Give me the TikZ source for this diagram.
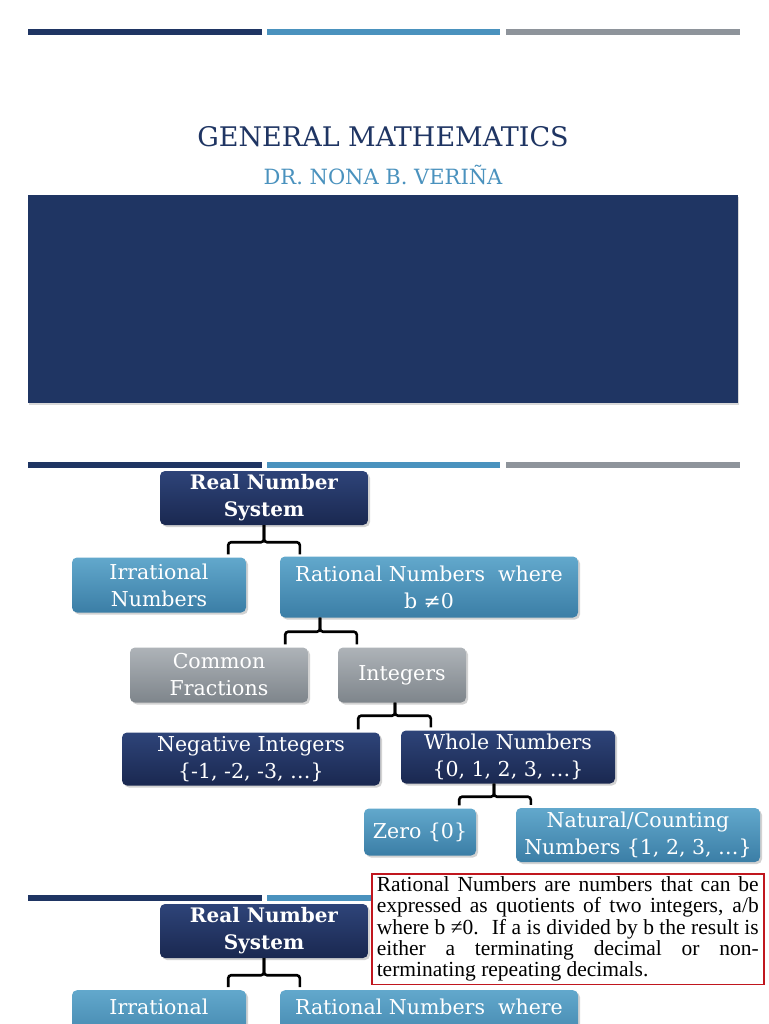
\documentclass[tikz,border=0pt]{standalone}
\usepackage{fontspec}
\setmainfont{DejaVu Serif}
\newfontfamily\boxfont{Liberation Serif}
\usetikzlibrary{shadows,calc}
\definecolor{navy}{HTML}{1F3563}
\definecolor{navyT}{HTML}{2E4479}
\definecolor{navyB}{HTML}{1A2850}
\definecolor{blueT}{HTML}{62A8CC}
\definecolor{blueB}{HTML}{3B7EA6}
\definecolor{greyT}{HTML}{AEB3B8}
\definecolor{greyB}{HTML}{7E858B}
\definecolor{midblue}{HTML}{4A92BE}
\definecolor{barg}{HTML}{8E949B}
\definecolor{redb}{HTML}{C0161E}
\begin{document}
\begin{tikzpicture}[x=1pt,y=-1pt,
  box/.style={rounded corners=5pt, text=white, align=center, inner sep=0pt, drop shadow={shadow xshift=2pt,shadow yshift=-2pt,opacity=0.35}, font=\fontsize{20.5}{27}\selectfont},
  nv/.style={box, top color=navyT, bottom color=navyB},
  bl/.style={box, top color=blueT, bottom color=blueB},
  gr/.style={box, top color=greyT, bottom color=greyB},
  brk/.style={line width=2.6pt, black, rounded corners=3pt},
  bar/.style={line width=6pt}]
\useasboundingbox (0,0) rectangle (768,1024);
\clip (0,0) rectangle (768,1024);
\fill[white] (0,0) rectangle (768,1024);
% bars
\foreach \y in {32,465,898}{
 \draw[bar,navy] (28,\y) -- (262,\y);
 \draw[bar,midblue] (267,\y) -- (500,\y);
 \draw[bar,barg] (506,\y) -- (740,\y);}
\node[text=navy,font=\fontsize{27}{32}\selectfont] (title) at (383,137) {GENERAL MATHEMATICS};
\node[text=midblue,font=\fontsize{21}{26}\selectfont] (sub) at (383,175) {DR. NONA B. VERIÑA};
\fill[navy, drop shadow={shadow xshift=1pt,shadow yshift=-2pt,opacity=0.3}] (28,195) rectangle (738,403);
% tree
\node[nv, minimum width=208pt, minimum height=54pt, font=\fontsize{20}{27}\selectfont\bfseries] (rns) at (264,498) {Real Number\\System};
\node[bl, minimum width=174pt, minimum height=55pt] (irr) at (159,585) {Irrational\\Numbers};
\node[bl, minimum width=298pt, minimum height=61pt] (rat) at (429,587) {Rational Numbers~ where\\b ≠0};
\node[gr, minimum width=178pt, minimum height=55pt] (cf) at (219,675) {Common\\Fractions};
\node[gr, minimum width=128pt, minimum height=55pt] (int) at (402,675) {Integers};
\node[nv, minimum width=258pt, minimum height=53pt] (neg) at (251,759) {Negative Integers\\\{-1, -2, -3, …\}};
\node[nv, minimum width=214pt, minimum height=53pt] (whole) at (508,757) {Whole Numbers\\\{0, 1, 2, 3, …\}};
\node[bl, minimum width=112pt, minimum height=47pt] (zero) at (420,832) {Zero \{0\}};
\node[bl, minimum width=244pt, minimum height=54pt] (nat) at (638,835) {Natural/Counting\\Numbers \{1, 2, 3, …\}};
\draw[brk] (rns.south) -- ++(0,17) -| ($(irr.north east)+(-18,-3)$);
\draw[brk] (rns.south) -- ++(0,17) -| ($(rat.north west)+(20,-2)$);
\draw[brk] ($(rat.south)+(-109,0)$) -- ++(0,14) -| ($(cf.north east)+(-23,-3)$);
\draw[brk] ($(rat.south)+(-109,0)$) -- ++(0,14) -| ($(int.north west)+(19,-3)$);
\draw[brk] ($(int.south)+(-7,0)$) -- ++(0,13) -| ($(neg.north east)+(-22,-3)$);
\draw[brk] ($(int.south)+(-7,0)$) -- ++(0,13) -| ($(whole.north west)+(30,-3)$);
\draw[brk] ($(whole.south)+(-14,0)$) -- ++(0,13) -| ($(zero.north east)+(-17,-3)$);
\draw[brk] ($(whole.south)+(-14,0)$) -- ++(0,13) -| ($(nat.north west)+(15,-3)$);
% bottom repeat
\node[nv, minimum width=208pt, minimum height=54pt, font=\fontsize{20}{27}\selectfont\bfseries] (rns2) at (264,931) {Real Number\\System};
\node[bl, minimum width=174pt, minimum height=60pt, anchor=north] (irr2) at (159,990) {Irrational\\Numbers};
\node[bl, minimum width=298pt, minimum height=61pt, anchor=north] (rat2) at (429,990) {Rational Numbers~ where\\b ≠0};
\draw[brk] (rns2.south) -- ++(0,17) -| ($(irr2.north east)+(-18,-3)$);
\draw[brk] (rns2.south) -- ++(0,17) -| ($(rat2.north west)+(20,-3)$);
% red box
\node[draw=redb, line width=1.5pt, fill=white, inner xsep=5pt, inner ysep=3pt, text width=382pt, align=justify, font=\boxfont\fontsize{21.5}{21.3}\selectfont, anchor=north west] (note) at (371,873) {Rational Numbers are numbers that can be\linebreak expressed as quotients of two integers, a/b\linebreak where b ≠0.~ If a is divided by b the result is\linebreak either a terminating decimal or non-\linebreak terminating repeating decimals.};
\end{tikzpicture}
\end{document}
